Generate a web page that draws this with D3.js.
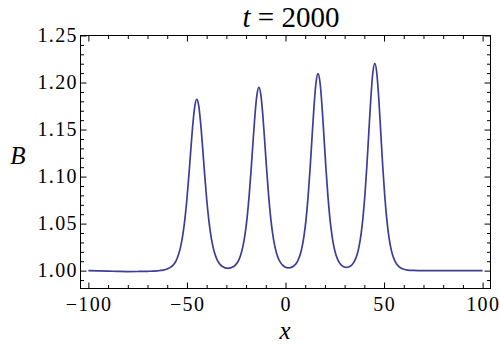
<!DOCTYPE html>
<html>
<head>
<meta charset="utf-8">
<script src="https://cdnjs.cloudflare.com/ajax/libs/d3/7.8.5/d3.min.js"></script>
</head>
<body style="margin:0">
<div id="chart"></div>
<script>
// Sample positions along x
var xData = [
    -100, -95, -90, -85, -80, -75, -70, -65, -62, -60,
    -58, -57, -56, -55, -54, -53, -52, -51, -50, -49, -48, -47, -46, -45,
    -44, -43, -42, -41, -40, -39, -38, -37, -36, -35, -34, -33, -32,
    -29.25,
    -26.5, -25.5, -24.5, -23.5, -22.5, -21.5, -20.5, -19.5, -18.5, -17.5, -16.5, -15.5, -14.5, -13.5,
    -12.5, -11.5, -10.5, -9.5, -8.5, -7.5, -6.5, -5.5, -4.5, -3.5, -2.5, -1.5, -0.5,
    1.5,
    3.5, 4.5, 5.5, 6.5, 7.5, 8.5, 9.5, 10.5, 11.5, 12.5, 13.5, 14.5, 15.5, 16.5,
    17.5, 18.5, 19.5, 20.5, 21.5, 22.5, 23.5, 24.5, 25.5, 26.5, 27.5, 28.5, 29.5,
    30.9,
    32.3, 33.3, 34.3, 35.3, 36.3, 37.3, 38.3, 39.3, 40.3, 41.3, 42.3, 43.3, 44.3, 45.3,
    46.3, 47.3, 48.3, 49.3, 50.3, 51.3, 52.3, 53.3, 54.3, 55.3, 56.3, 57.3, 58.3,
    60, 62, 65, 70, 80, 90, 100
];

// B values at those positions
var bData = [
    1.0000, 0.9998, 0.9995, 0.9992, 0.9990, 0.9991, 0.9993, 0.9998, 1.0006, 1.0018,
    1.0040, 1.0059, 1.0087, 1.0129, 1.0189, 1.0274, 1.0393, 1.0555, 1.0764, 1.1018, 1.1295, 1.1557, 1.1749, 1.1820,
    1.1749, 1.1557, 1.1295, 1.1018, 1.0764, 1.0555, 1.0393, 1.0274, 1.0189, 1.0130, 1.0089, 1.0062, 1.0044,
    1.0025,
    1.0040, 1.0058, 1.0083, 1.0123, 1.0182, 1.0268, 1.0390, 1.0559, 1.0781, 1.1056, 1.1360, 1.1652, 1.1869, 1.1950,
    1.1869, 1.1652, 1.1360, 1.1056, 1.0781, 1.0559, 1.0390, 1.0268, 1.0182, 1.0124, 1.0085, 1.0059, 1.0042,
    1.0030,
    1.0040, 1.0055, 1.0079, 1.0118, 1.0174, 1.0261, 1.0386, 1.0561, 1.0797, 1.1093, 1.1429, 1.1757, 1.2003, 1.2095,
    1.2003, 1.1757, 1.1429, 1.1093, 1.0797, 1.0561, 1.0386, 1.0261, 1.0174, 1.0118, 1.0080, 1.0056, 1.0042,
    1.0035,
    1.0041, 1.0054, 1.0077, 1.0114, 1.0169, 1.0256, 1.0383, 1.0563, 1.0809, 1.1121, 1.1481, 1.1835, 1.2104, 1.2205,
    1.2104, 1.1835, 1.1481, 1.1121, 1.0809, 1.0563, 1.0383, 1.0256, 1.0169, 1.0111, 1.0073, 1.0047, 1.0031,
    1.0015, 1.0006, 1.0002, 1.0000, 1.0000, 1.0000, 1.0000
];

// Tick values
var xTicks = [-100, -50, 0, 50, 100];
var xMinorTicks = d3.range(-100, 101, 10);
var yTicks = [1.00, 1.05, 1.10, 1.15, 1.20, 1.25];
var yMinorTicks = d3.range(99, 126).map(d => d / 100);

var titleTime = "2000";

// SVG size and frame edges
var svgWidth = 500;
var svgHeight = 345;
var frame = { left: 80.5, right: 490.5, top: 35.5, bottom: 288.5 };

var svg = d3.select("#chart")
    .append("svg")
    .attr("width", svgWidth)
    .attr("height", svgHeight);

// Scales
var xScale = d3.scaleLinear()
    .domain([-104, 104])
    .range([frame.left, frame.right]);

var yScale = d3.scaleLinear()
    .domain([0.981, 1.25])
    .range([frame.bottom, frame.top]);

var majorLen = 6;
var minorLen = 3.5;

var xMinor = xMinorTicks.filter(d => d % 50 !== 0);
var yMinor = yMinorTicks.filter(d => Math.round(d * 100) % 5 !== 0);

// Frame
svg.append("rect")
    .attr("x", frame.left)
    .attr("y", frame.top)
    .attr("width", frame.right - frame.left)
    .attr("height", frame.bottom - frame.top)
    .attr("fill", "none")
    .attr("stroke", "#000")
    .attr("stroke-width", 1);

// Tick marks on all four sides, pointing inward
function tickMarks(axisFn, scale, values, len, pos) {
    var g = svg.append("g")
        .attr("transform", pos)
        .call(axisFn(scale).tickValues(values).tickSizeInner(-len).tickSizeOuter(0).tickFormat(""));
    g.select(".domain").remove();
    g.selectAll("line").attr("stroke", "#000");
}

tickMarks(d3.axisBottom, xScale, xTicks, majorLen, `translate(0,${frame.bottom})`);
tickMarks(d3.axisBottom, xScale, xMinor, minorLen, `translate(0,${frame.bottom})`);
tickMarks(d3.axisTop, xScale, xTicks, majorLen, `translate(0,${frame.top})`);
tickMarks(d3.axisTop, xScale, xMinor, minorLen, `translate(0,${frame.top})`);
tickMarks(d3.axisLeft, yScale, yTicks, majorLen, `translate(${frame.left},0)`);
tickMarks(d3.axisLeft, yScale, yMinor, minorLen, `translate(${frame.left},0)`);
tickMarks(d3.axisRight, yScale, yTicks, majorLen, `translate(${frame.right},0)`);
tickMarks(d3.axisRight, yScale, yMinor, minorLen, `translate(${frame.right},0)`);

// Tick labels (spaced out a little, like the original)
svg.selectAll(".xlabel")
    .data(xTicks)
    .enter().append("text")
    .attr("class", "xlabel")
    .attr("x", d => xScale(d) + 0.7)
    .attr("y", frame.bottom + 22.5)
    .attr("text-anchor", "middle")
    .style("font-family", "'Liberation Serif'")
    .style("font-size", "20px")
    .style("letter-spacing", "1.4px")
    .text(d => d < 0 ? "\u2212" + Math.abs(d) : d);

svg.selectAll(".ylabel")
    .data(yTicks)
    .enter().append("text")
    .attr("class", "ylabel")
    .attr("x", frame.left - 2.5)
    .attr("y", d => yScale(d) + 6.5)
    .attr("text-anchor", "end")
    .style("font-family", "'Liberation Serif'")
    .style("font-size", "20px")
    .style("letter-spacing", "1.4px")
    .text(d => d.toFixed(2));

// Curve
var points = xData.map((x, i) => [x, bData[i]]);

var line = d3.line()
    .x(d => xScale(d[0]))
    .y(d => yScale(d[1]))
    .curve(d3.curveMonotoneX);

svg.append("path")
    .datum(points)
    .attr("d", line)
    .attr("fill", "none")
    .attr("stroke", "#3d3d99")
    .attr("stroke-width", 1.7)
    .attr("stroke-linejoin", "round");

// Title
var title = svg.append("text")
    .attr("x", 291)
    .attr("y", 27)
    .attr("text-anchor", "middle")
    .style("font-family", "'Liberation Serif'")
    .style("font-size", "29px");
title.append("tspan").style("font-style", "italic").text("t");
title.append("tspan").text(" = " + titleTime);

// Axis labels
svg.append("text")
    .attr("x", 18)
    .attr("y", 164)
    .attr("text-anchor", "middle")
    .style("font-family", "'Liberation Serif'")
    .style("font-size", "25px")
    .style("font-style", "italic")
    .text("B");

svg.append("text")
    .attr("x", 285)
    .attr("y", 339)
    .attr("text-anchor", "middle")
    .style("font-family", "'Liberation Serif'")
    .style("font-size", "25px")
    .style("font-style", "italic")
    .text("x");
</script>
</body>
</html>
